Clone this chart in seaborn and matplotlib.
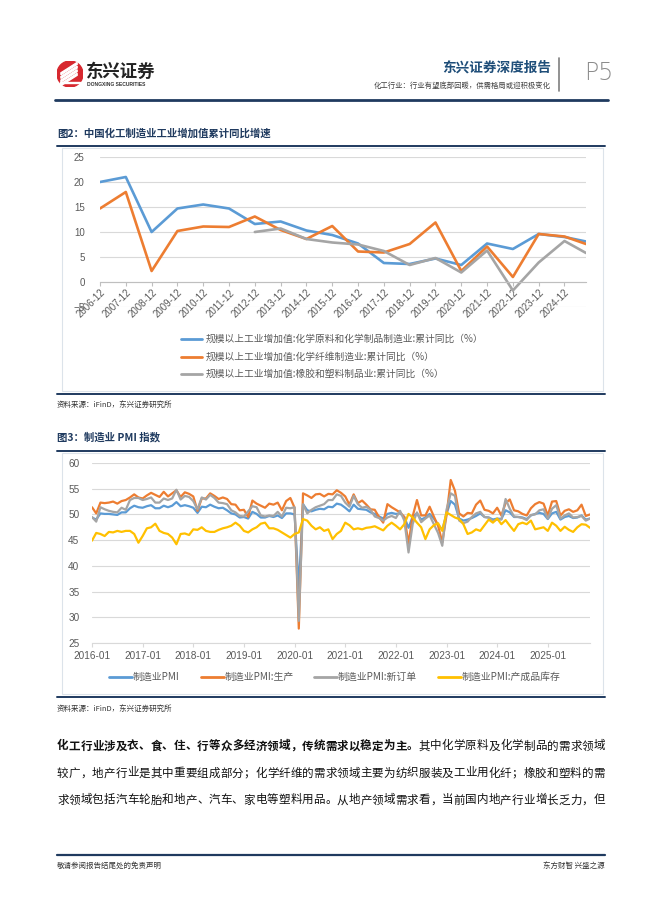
import numpy as np
import pandas as pd
import matplotlib
matplotlib.use('Agg')
import matplotlib.pyplot as plt
import seaborn as sns
from matplotlib.patches import Rectangle, Circle, Polygon
from matplotlib.lines import Line2D

sns.set_theme(style='white')
plt.rcParams['font.family'] = ['Liberation Sans', 'Noto Sans CJK SC', 'DejaVu Sans']
CJK = ['Noto Sans CJK SC', 'DejaVu Sans']

# ---- data: chart 2, cumulative YoY growth of industrial value added (%) ----
years2 = ['2006-12', '2007-12', '2008-12', '2009-12', '2010-12', '2011-12', '2012-12',
          '2013-12', '2014-12', '2015-12', '2016-12', '2017-12', '2018-12', '2019-12',
          '2020-12', '2021-12', '2022-12', '2023-12', '2024-12', '2025-10']
chem = [20.0, 21.0, 10.0, 14.7, 15.5, 14.7, 11.6, 12.1, 10.3, 9.4, 7.7, 3.8, 3.6, 4.7,
        3.4, 7.7, 6.6, 9.6, 9.0, 8.1]
fiber = [14.7, 18.0, 2.2, 10.2, 11.1, 11.0, 13.1, 10.4, 8.6, 11.2, 6.1, 5.9, 7.6, 11.9,
         2.2, 7.1, 1.0, 9.6, 9.1, 7.6]
rubber = [np.nan] * 6 + [10.0, 10.7, 8.6, 7.9, 7.5, 6.2, 3.4, 4.8, 1.9, 6.3, -1.7, 3.9, 8.2, 5.8]
names2 = ['规模以上工业增加值:化学原料和化学制品制造业:累计同比（%）',
          '规模以上工业增加值:化学纤维制造业:累计同比（%）',
          '规模以上工业增加值:橡胶和塑料制品业:累计同比（%）']

# ---- data: chart 3, manufacturing PMI, 2016-01 .. 2025-11 ----
pmi = [49.4, 49.0, 50.2, 50.1, 50.1, 50.0, 49.9, 50.4, 50.4, 51.2, 51.7, 51.4,
       51.3, 51.6, 51.8, 51.2, 51.2, 51.7, 51.4, 51.7, 52.4, 51.6, 51.8, 51.6,
       51.3, 50.3, 51.5, 51.4, 51.9, 51.5, 51.2, 51.3, 50.8, 50.2, 50.0, 49.4,
       49.5, 49.2, 50.5, 50.1, 49.4, 49.4, 49.7, 49.5, 49.8, 49.3, 50.2, 50.2,
       50.0, 35.7, 52.0, 50.8, 50.6, 50.9, 51.1, 51.0, 51.5, 51.4, 52.1, 51.9,
       51.3, 50.6, 51.9, 51.1, 51.0, 50.9, 50.4, 50.1, 49.6, 49.2, 50.1, 50.3,
       50.1, 50.2, 49.5, 47.4, 49.6, 50.2, 49.0, 49.4, 50.1, 49.2, 48.0, 47.0,
       50.1, 52.6, 51.9, 49.2, 48.8, 49.0, 49.3, 49.7, 50.2, 49.5, 49.4, 49.0,
       49.2, 49.1, 50.8, 50.4, 49.5, 49.5, 49.4, 49.1, 49.8, 50.1, 50.3, 50.1,
       49.1, 50.2, 50.5, 49.0, 49.5, 49.7, 49.3, 49.4, 49.8, 49.0, 49.2]
prod = [51.4, 50.2, 52.3, 52.2, 52.3, 52.5, 52.1, 52.6, 52.8, 53.3, 53.9, 53.3,
        53.1, 53.7, 54.2, 53.8, 53.4, 54.4, 53.5, 54.1, 54.7, 53.4, 54.3, 54.0,
        53.5, 50.7, 53.1, 53.1, 54.1, 53.6, 53.0, 53.3, 53.0, 52.0, 51.9, 50.8,
        50.9, 49.5, 52.7, 52.1, 51.7, 51.3, 52.1, 51.9, 52.3, 50.8, 52.6, 53.2,
        51.3, 27.8, 54.1, 53.7, 53.2, 53.9, 54.0, 53.5, 54.0, 53.9, 54.7, 54.2,
        53.5, 51.9, 53.9, 52.2, 52.7, 51.9, 51.0, 50.9, 49.5, 48.4, 52.0, 51.4,
        50.9, 50.4, 49.5, 44.4, 49.7, 52.8, 49.8, 49.8, 51.5, 49.6, 47.8, 44.6,
        49.8, 56.7, 54.6, 50.2, 49.6, 50.3, 50.2, 51.9, 52.7, 50.9, 50.7, 50.2,
        51.3, 49.8, 52.2, 52.9, 50.8, 50.6, 50.1, 49.8, 51.2, 52.0, 52.4, 52.1,
        49.8, 52.5, 52.6, 49.8, 50.7, 51.0, 50.5, 50.8, 51.9, 49.7, 50.0]
orders = [49.5, 48.6, 51.4, 51.0, 50.7, 50.5, 50.4, 51.3, 50.9, 52.8, 53.2, 53.2,
          52.8, 53.0, 53.3, 52.3, 52.3, 53.1, 52.8, 53.1, 54.8, 52.9, 53.6, 53.4,
          52.6, 51.0, 53.3, 52.9, 53.8, 53.2, 52.3, 52.2, 52.0, 50.8, 50.4, 49.7,
          49.6, 50.6, 51.6, 51.4, 49.8, 49.6, 49.8, 49.7, 50.5, 49.6, 51.3, 51.2,
          51.4, 29.3, 52.0, 50.2, 50.9, 51.4, 51.7, 52.0, 52.8, 52.8, 53.9, 53.6,
          52.3, 51.5, 53.6, 52.0, 51.3, 51.5, 50.9, 49.6, 49.3, 48.8, 49.4, 49.7,
          49.3, 50.7, 48.8, 42.6, 48.2, 50.4, 48.5, 49.2, 49.8, 48.1, 46.4, 43.9,
          50.9, 54.1, 53.6, 48.8, 48.3, 48.6, 49.5, 50.2, 50.5, 49.5, 49.4, 48.7,
          49.0, 49.0, 53.0, 51.1, 49.6, 49.5, 49.3, 48.9, 49.9, 50.0, 50.8, 51.0,
          49.2, 51.1, 51.8, 49.2, 49.8, 50.2, 49.4, 49.5, 49.7, 48.8, 49.2]
stock = [44.9, 46.4, 46.2, 45.8, 46.6, 46.5, 46.8, 46.6, 46.8, 46.8, 46.2, 44.5,
         45.8, 47.3, 47.5, 48.2, 46.8, 46.4, 46.2, 45.5, 44.2, 46.2, 46.3, 46.0,
         47.1, 47.0, 47.5, 46.8, 46.6, 46.6, 47.0, 47.3, 47.5, 47.8, 48.4, 47.8,
         46.8, 46.5, 47.1, 47.5, 48.2, 48.4, 47.3, 47.3, 47.0, 46.5, 46.0, 45.5,
         46.2, 46.5, 49.1, 48.8, 47.8, 47.1, 47.5, 46.8, 47.1, 45.2, 46.2, 46.8,
         48.4, 47.9, 47.1, 47.3, 47.1, 47.4, 47.5, 47.7, 47.3, 46.9, 47.8, 48.4,
         47.8, 47.1, 48.1, 50.1, 49.4, 48.4, 47.5, 45.2, 47.1, 47.9, 48.3, 46.8,
         50.4, 49.9, 49.4, 49.1, 48.1, 46.2, 46.5, 47.1, 46.8, 47.9, 49.0, 48.4,
         49.2, 48.1, 48.9, 47.8, 46.8, 48.1, 48.4, 48.1, 48.8, 47.1, 47.3, 47.5,
         46.8, 48.4, 47.8, 46.8, 47.6, 47.0, 46.6, 47.5, 48.1, 48.0, 47.4]
year_labels3 = ['2016-01', '2017-01', '2018-01', '2019-01', '2020-01',
                '2021-01', '2022-01', '2023-01', '2024-01', '2025-01']
names3 = ['制造业PMI', '制造业PMI:生产', '制造业PMI:新订单', '制造业PMI:产成品库存']

colors = ['#5B9BD5', '#ED7D31', '#A5A5A5', '#FFC000']
navy = '#1F3A5F'
tick_grey = '#595959'
grid_grey = '#D9D9D9'

W, H = 662, 898
fig = plt.figure(figsize=(W / 100, H / 100), dpi=100)


def fx(x):
    return x / W


def fy(y):
    return 1 - y / H


def px_axes(x0, y0, x1, y1):
    return fig.add_axes([fx(x0), fy(y1), (x1 - x0) / W, (y1 - y0) / H])


def hline(x0, x1, y, color=navy, lw=1.6):
    fig.add_artist(Line2D([fx(x0), fx(x1)], [fy(y), fy(y)], color=color, lw=lw))


# ---- page header ----
ax_logo = px_axes(57, 61, 83, 87)
ax_logo.set_xlim(-1, 1)
ax_logo.set_ylim(-1, 1)
ax_logo.set_aspect('equal')
ax_logo.axis('off')
ax_logo.add_patch(Circle((0, 0), 1, color='#D7282F'))
for k in range(4):
    off = -0.55 + k * 0.28
    ax_logo.add_patch(Polygon([(-0.7, off - 0.35), (0.55, off + 0.45), (0.55, off + 0.6), (-0.7, off - 0.2)],
                              closed=True, color='white'))
ax_logo.add_patch(Polygon([(-0.75, -0.6), (0.75, -0.6), (0.75, -0.72), (-0.75, -0.72)], color='white'))
fig.text(fx(86), fy(72), '东兴证券', fontsize=12.5, fontweight='heavy', family=CJK, color='#222222', va='center')
fig.text(fx(87), fy(84.5), 'DONGXING SECURITIES', fontsize=3.6, fontweight='bold', color='#333333', va='center')
fig.text(fx(551), fy(68), '东兴证券深度报告', fontsize=9.8, fontweight='bold', family=CJK, color='#1F4E79',
         ha='right', va='center')
fig.text(fx(551), fy(86), '化工行业：行业有望底部回暖，供需格局或迎积极变化', fontsize=5.3, family=CJK,
         color='#404040', ha='right', va='center')
fig.add_artist(Line2D([fx(559), fx(559)], [fy(58), fy(91)], color='#7F7F7F', lw=1.2))
fig.text(fx(584), fy(73), 'P5', fontsize=17, color='#8C8C8C', va='center', family=['DejaVu Sans'],
         fontweight='light')
hline(55, 608, 100, lw=2.0)

# ---- chart 2 ----
fig.text(fx(57), fy(133), '图2：中国化工制造业工业增加值累计同比增速', fontsize=7.5, fontweight='bold',
         family=CJK, color=navy, va='center')
hline(57, 605, 146, lw=1.4)
fig.add_artist(Rectangle((fx(62), fy(391)), fx(603) - fx(62), fy(148) - fy(391), transform=fig.transFigure,
                         fill=False, ec='#DCE3EA', lw=0.8))

x2 = list(range(19)) + [18 + 10 / 12]
df2 = pd.DataFrame({
    'x': x2 * 3,
    'value': chem + fiber + rubber,
    'series': [names2[0]] * 20 + [names2[1]] * 20 + [names2[2]] * 20,
})
ax2 = px_axes(100, 157, 586, 307)
sns.lineplot(data=df2, x='x', y='value', hue='series', hue_order=names2, palette=colors[:3],
             linewidth=1.9, legend=False, estimator=None, sort=False, ax=ax2)
ax2.set_xlim(0, x2[-1])
ax2.set_ylim(-5, 25)
ax2.set_yticks(range(-5, 30, 5))
ax2.set_xticks(range(19))
ax2.set_xticklabels(years2[:19])
ax2.set_xlabel('')
ax2.set_ylabel('')
ax2.grid(axis='y', color=grid_grey, lw=0.8)
ax2.set_axisbelow(True)
for s in ['top', 'right', 'left']:
    ax2.spines[s].set_visible(False)
ax2.spines['bottom'].set_position(('data', 0))
ax2.spines['bottom'].set_color('#BFBFBF')
ax2.spines['bottom'].set_linewidth(0.8)
ax2.tick_params(axis='x', direction='out', length=3, width=0.8, color='#BFBFBF', labelsize=7,
                labelcolor=tick_grey, pad=1, bottom=True)
ax2.tick_params(axis='y', length=0, labelsize=7, labelcolor=tick_grey, pad=11)
for lab in ax2.get_xticklabels():
    lab.set_rotation(45)
    lab.set_ha('right')
    lab.set_rotation_mode('anchor')

for i, name in enumerate(names2):
    y = 339 + i * 17.5
    hline(181, 202, y, color=colors[i], lw=2.0)
    fig.text(fx(206), fy(y), name, fontsize=7, family=CJK, color=tick_grey, va='center')

hline(57, 605, 394, lw=1.4)
fig.text(fx(57), fy(405), '资料来源：iFinD，东兴证券研究所', fontsize=5.4, style='italic', family=CJK,
         color='#333333', va='center')

# ---- chart 3 ----
fig.text(fx(57), fy(437), '图3：制造业 PMI 指数', fontsize=7.5, fontweight='bold', family=CJK,
         color=navy, va='center')
hline(57, 605, 451, lw=1.4)
fig.add_artist(Rectangle((fx(62), fy(694)), fx(603) - fx(62), fy(453) - fy(694), transform=fig.transFigure,
                         fill=False, ec='#DCE3EA', lw=0.8))

n3 = len(pmi)
df3 = pd.DataFrame({
    'x': list(range(n3)) * 4,
    'value': pmi + prod + orders + stock,
    'series': [names3[0]] * n3 + [names3[1]] * n3 + [names3[2]] * n3 + [names3[3]] * n3,
})
ax3 = px_axes(92, 463, 590, 643)
sns.lineplot(data=df3, x='x', y='value', hue='series', hue_order=names3, palette=colors,
             linewidth=1.6, legend=False, estimator=None, sort=False, ax=ax3)
ax3.set_xlim(0, n3 - 1)
ax3.set_ylim(25, 60)
ax3.set_yticks(range(25, 65, 5))
ax3.set_xticks(range(0, n3, 12))
ax3.set_xticklabels(year_labels3)
ax3.set_xlabel('')
ax3.set_ylabel('')
ax3.grid(axis='y', color=grid_grey, lw=0.8)
ax3.set_axisbelow(True)
for s in ['top', 'right', 'left']:
    ax3.spines[s].set_visible(False)
ax3.spines['bottom'].set_color(grid_grey)
ax3.spines['bottom'].set_linewidth(0.8)
ax3.tick_params(axis='x', direction='out', length=3, width=0.8, color=grid_grey, labelsize=7.2,
                labelcolor=tick_grey, pad=3, bottom=True)
ax3.tick_params(axis='y', length=0, labelsize=7.2, labelcolor=tick_grey, pad=9)

leg_x = [109, 201, 314, 438]
for i, name in enumerate(names3):
    hline(leg_x[i], leg_x[i] + 23, 677, color=colors[i], lw=2.0)
    fig.text(fx(leg_x[i] + 24), fy(677), name, fontsize=7.1, family=CJK, color=tick_grey, va='center')

hline(57, 605, 697, lw=1.4)
fig.text(fx(57), fy(709), '资料来源：iFinD，东兴证券研究所', fontsize=5.4, style='italic', family=CJK,
         color='#333333', va='center')

# ---- body text (justified, one character per slot) ----
bold_part = '化工行业涉及衣、食、住、行等众多经济领域，传统需求以稳定为主。'
lines = [bold_part + '其中化学原料及化学制品的需求领域',
         '较广，地产行业是其中重要组成部分；化学纤维的需求领域主要为纺织服装及工业用化纤；橡胶和塑料的需',
         '求领域包括汽车轮胎和地产、汽车、家电等塑料用品。从地产领域需求看，当前国内地产行业增长乏力，但']
line_y = [746, 773, 800]
x_left, x_right = 57, 605
for li, text in enumerate(lines):
    step = (x_right - x_left) / len(text)
    for ci, ch in enumerate(text):
        weight = 'bold' if (li == 0 and ci < len(bold_part)) else 'normal'
        fig.text(fx(x_left + ci * step), fy(line_y[li]), ch, fontsize=8.3, fontweight=weight,
                 family=CJK, color='#111111', va='center', ha='left')

# ---- footer ----
hline(57, 605, 855, lw=1.6)
fig.text(fx(57), fy(866), '敬请参阅报告结尾处的免责声明', fontsize=5.4, family=CJK, color='#333333', va='center')
fig.text(fx(605), fy(866), '东方财智 兴盛之源', fontsize=5.4, family=CJK, color='#333333', va='center',
         ha='right')

fig.savefig('out.png', dpi=100)
